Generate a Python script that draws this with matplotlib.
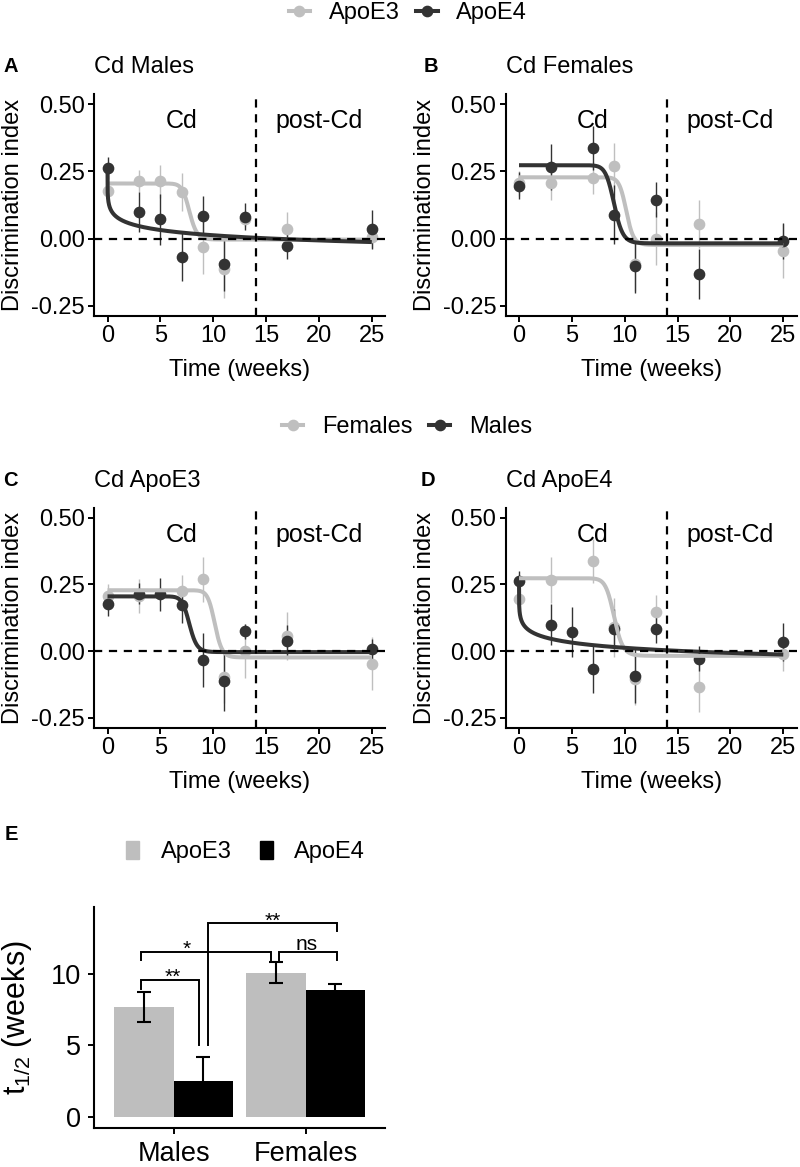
import numpy as np
import matplotlib
matplotlib.use("Agg")
import matplotlib.pyplot as plt
from matplotlib.lines import Line2D
from matplotlib.patches import Patch

plt.rcParams.update({
    "font.family": ["Liberation Sans", "DejaVu Sans"],
    "axes.unicode_minus": False,
    "mathtext.fontset": "custom",
    "mathtext.rm": "Liberation Sans",
    "mathtext.it": "Liberation Sans:italic",
})

# time points (weeks)
weeks_m = [0, 3, 5, 7, 9, 11, 13, 17, 25]
weeks_f = [0, 3, 7, 9, 11, 13, 17, 25]

# discrimination index, mean and SEM
apoe3_m = [0.176, 0.215, 0.213, 0.174, -0.033, -0.113, 0.074, 0.036, 0.006]
apoe3_m_se = [0.045, 0.04, 0.062, 0.07, 0.10, 0.11, 0.028, 0.063, 0.04]
apoe4_m = [0.262, 0.099, 0.071, -0.069, 0.082, -0.094, 0.081, -0.029, 0.034]
apoe4_m_se = [0.04, 0.076, 0.095, 0.09, 0.075, 0.10, 0.05, 0.047, 0.072]
apoe3_f = [0.205, 0.207, 0.226, 0.269, -0.096, 0.0, 0.055, -0.047]
apoe3_f_se = [0.045, 0.065, 0.06, 0.085, 0.10, 0.10, 0.09, 0.10]
apoe4_f = [0.197, 0.266, 0.337, 0.089, -0.103, 0.145, -0.133, -0.010]
apoe4_f_se = [0.05, 0.087, 0.082, 0.11, 0.10, 0.065, 0.094, 0.066]

# fitted decay curves: top, bottom, t50, hill
fit_apoe3_m = [0.205, -0.004, 7.75, 22]
fit_apoe4_m = [0.262, -0.20, 5.1, 0.244]
fit_apoe3_f = [0.228, -0.024, 10.15, 30]
fit_apoe4_f = [0.273, -0.018, 9.0, 22]

# panel E: half-life (weeks)
sexes = ["Males", "Females"]
thalf_apoe3 = [7.71, 10.09]
thalf_apoe3_se = [1.06, 0.73]
thalf_apoe4 = [2.52, 8.86]
thalf_apoe4_se = [1.64, 0.42]

LIGHT = "#BFBFBF"
DARK = "#333333"
W, H = 800, 1167


def rect(l, t, r, b):
    return [l / W, 1 - b / H, (r - l) / W, (b - t) / H]


def logistic(t, top, bottom, t50, hill):
    return bottom + (top - bottom) / (1 + (t / t50) ** hill)


groups = {
    "apoe3_m": (weeks_m, apoe3_m, apoe3_m_se, fit_apoe3_m),
    "apoe4_m": (weeks_m, apoe4_m, apoe4_m_se, fit_apoe4_m),
    "apoe3_f": (weeks_f, apoe3_f, apoe3_f_se, fit_apoe3_f),
    "apoe4_f": (weeks_f, apoe4_f, apoe4_f_se, fit_apoe4_f),
}

panels = [
    (rect(94.3, 94.2, 385, 315.7), "A", "Cd Males", ["apoe3_m", "apoe4_m"], 3.5, 66.7),
    (rect(505.8, 94.2, 796.5, 315.7), "B", "Cd Females", ["apoe3_f", "apoe4_f"], 424, 66.7),
    (rect(94.3, 507.7, 385, 727.7), "C", "Cd ApoE3", ["apoe3_f", "apoe3_m"], 3.5, 481),
    (rect(505.8, 507.7, 796.5, 727.7), "D", "Cd ApoE4", ["apoe4_f", "apoe4_m"], 421, 481),
]

fig = plt.figure(figsize=(W / 100, H / 100), dpi=100)
tt = np.linspace(0, 25, 3001)
dash = (0, (3.7, 3))


def style_axes(ax, fs, pad):
    for s in ["top", "right"]:
        ax.spines[s].set_visible(False)
    for s in ["left", "bottom"]:
        ax.spines[s].set_linewidth(1.5)
    ax.tick_params(width=1.4, length=4.3, labelsize=fs, pad=pad, colors="black")


for r, letter, title, keys, lx, ty in panels:
    ax = fig.add_axes(r)
    cols = [LIGHT, DARK]
    for k, c in zip(keys, cols):
        wk, m, se, fit = groups[k]
        ax.errorbar(wk, m, yerr=se, fmt="none", ecolor=c, elinewidth=1.0, zorder=2)
    for k, c in zip(keys, cols):
        wk, m, se, fit = groups[k]
        ax.plot(wk, m, "o", color=c, ms=7.4, zorder=3)
    for k, c in zip(keys, cols):
        wk, m, se, fit = groups[k]
        ax.plot(tt, logistic(tt, *fit), color=c, lw=2.9, zorder=4, solid_capstyle="butt")
    ax.axhline(0, color="black", lw=1.6, ls=dash, zorder=5)
    ax.axvline(14, color="black", lw=1.6, ls=dash, zorder=5)
    ax.text(7, 0.41, "Cd", fontsize=18, ha="center", va="baseline")
    ax.text(20, 0.41, "post-Cd", fontsize=18, ha="center", va="baseline")
    ax.set_xlim(-1.25, 26.25)
    ax.set_ylim(-0.2875, 0.5375)
    ax.set_xticks([0, 5, 10, 15, 20, 25])
    ax.set_yticks([-0.25, 0, 0.25, 0.5])
    ax.set_yticklabels(["-0.25", "0.00", "0.25", "0.50"])
    style_axes(ax, 17, 2.5)
    ax.set_xlabel("Time (weeks)", fontsize=17)
    ax.set_ylabel("Discrimination index", fontsize=17)
    hpx = r[3] * H
    wpx = r[2] * W
    ax.xaxis.set_label_coords(0.5, -43.3 / hpx)
    ax.yaxis.set_label_coords(-70 / wpx, 0.5)
    fig.text(lx / W, 1 - ty / H, letter, fontsize=14.5, fontweight="bold", va="center")
    fig.text(r[0], 1 - ty / H, title, fontsize=17, va="center")

# legends for the line panels
fig.legend(
    [Line2D([], [], color=LIGHT, lw=2.9, marker="o", ms=7.4),
     Line2D([], [], color=DARK, lw=2.9, marker="o", ms=7.4)],
    ["ApoE3", "ApoE4"], loc="center", bbox_to_anchor=(0.51, 1 - 13 / H),
    ncol=2, frameon=False, fontsize=17, handlelength=0.9, handletextpad=0.8,
    columnspacing=0.7)
fig.legend(
    [Line2D([], [], color=LIGHT, lw=2.9, marker="o", ms=7.4),
     Line2D([], [], color=DARK, lw=2.9, marker="o", ms=7.4)],
    ["Females", "Males"], loc="center", bbox_to_anchor=(0.509, 1 - 427 / H),
    ncol=2, frameon=False, fontsize=17, handlelength=0.9, handletextpad=0.8,
    columnspacing=0.7)

# panel E
re = rect(94.3, 906.7, 385, 1127.7)
axe = fig.add_axes(re)
xc = np.arange(1, len(sexes) + 1)
bw = 0.45
axe.bar(xc - bw / 2, thalf_apoe3, width=bw, color="#BEBEBE", zorder=2)
axe.bar(xc + bw / 2, thalf_apoe4, width=bw, color="black", zorder=2)
axe.errorbar(xc - bw / 2, thalf_apoe3, yerr=thalf_apoe3_se, fmt="none",
             ecolor="black", elinewidth=1.5, capsize=4.7, capthick=1.5, zorder=3)
axe.errorbar(xc + bw / 2, thalf_apoe4, yerr=thalf_apoe4_se, fmt="none",
             ecolor="black", elinewidth=1.5, capsize=4.7, capthick=1.5, zorder=3)

# significance brackets: x0, x1, y, left leg end, right leg end, label, label x, label baseline
brackets = [
    (0.755, 1.19, 9.56, 8.93, 5.02, "**", 0.995, 9.35),
    (0.755, 1.74, 11.56, 11.0, 11.0, "*", 1.096, 11.38),
    (1.80, 2.24, 11.56, 11.0, 11.0, "ns", 2.005, 11.69),
    (1.26, 2.24, 13.55, 5.02, 13.03, "**", 1.748, 13.32),
]
for x0, x1, y, yl, yr, lab, tx, tyb in brackets:
    axe.plot([x0, x0, x1, x1], [yl, y, y, yr], color="black", lw=1.4, zorder=4,
             solid_joinstyle="miter")
    axe.text(tx, tyb, lab, fontsize=15, ha="center", va="baseline")

axe.set_xlim(0.4, 2.6)
axe.set_ylim(-0.77, 14.72)
axe.set_xticks(xc)
axe.set_xticklabels(sexes)
axe.set_yticks([0, 5, 10])
style_axes(axe, 19.5, 5)
axe.set_ylabel(r"$\mathrm{t}_{1/2}$ (weeks)", fontsize=22)
axe.yaxis.set_label_coords(-60 / (re[2] * W), 0.5)
fig.text(5 / W, 1 - 834 / H, "E", fontsize=14.5, fontweight="bold", va="center")
fig.legend([Patch(color="#BEBEBE"), Patch(color="black")], ["ApoE3", "ApoE4"],
           loc="center", bbox_to_anchor=(0.307, 1 - 852 / H), ncol=2, frameon=False,
           fontsize=17, handlelength=0.55, handleheight=0.8, handletextpad=0.9,
           columnspacing=1.2)

fig.savefig("out.png", dpi=100)
